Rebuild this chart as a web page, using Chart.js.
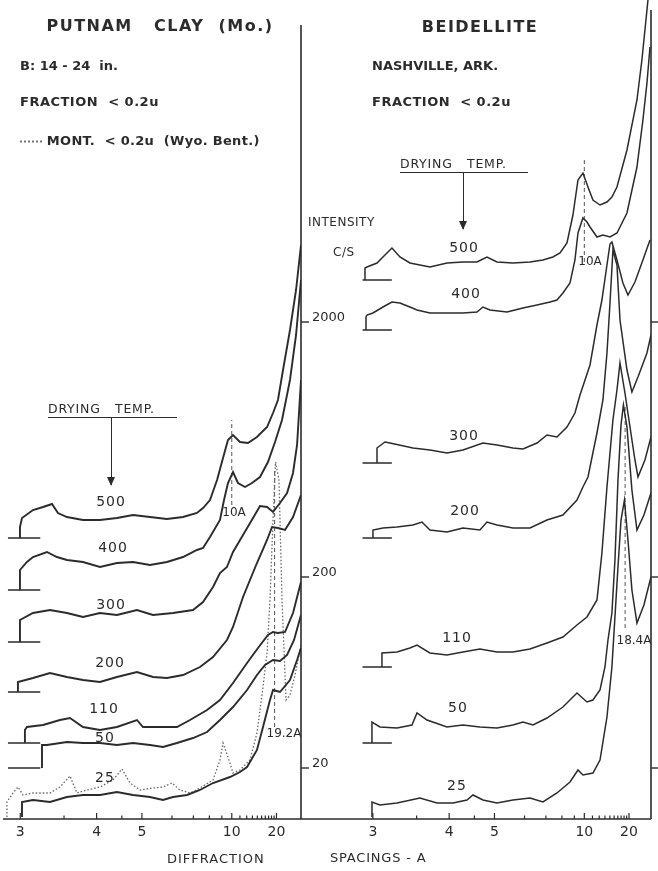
<!DOCTYPE html>
<html>
<head>
<meta charset="utf-8">
<title>Putnam clay / Beidellite - drying temperature</title>
<script src="https://cdn.jsdelivr.net/npm/chart.js@4.4.0/dist/chart.umd.min.js"></script>
<style>
  html, body { margin: 0; padding: 0; background: #fff; }
  #page { position: relative; width: 658px; height: 871px; overflow: hidden; font-family: 'DejaVu Sans', sans-serif; color: #2b2b2b; }
  canvas { position: absolute; top: 0; }
  .t { position: absolute; white-space: nowrap; line-height: 1; transform: translate(0, -50%); }
  .c { transform: translate(-50%, -50%); }
  .b { font-weight: bold; }
  .n { font-size: 14px; letter-spacing: 1px; }
  .ul { position: absolute; height: 0; border-top: 1.5px solid #2b2b2b; }
  .arrow { position: absolute; width: 0; border-left: 1.5px solid #2b2b2b; }
  .arrow::after { content: ''; position: absolute; left: -5.5px; bottom: -1px; border-left: 4.5px solid transparent; border-right: 4.5px solid transparent; border-top: 9px solid #2b2b2b; }
  .dots { display: inline-block; width: 22px; border-top: 2px dotted #777; vertical-align: middle; }
</style>
</head>
<body>
<div id="page">
  <canvas id="putnamChart" width="360" height="871" style="left:0"></canvas>
  <canvas id="beidelliteChart" width="353" height="871" style="left:305px"></canvas>

  <!-- headers -->
  <div class="t c b" style="left:160px;top:26px;font-size:16px;letter-spacing:1.5px">PUTNAM&nbsp;&nbsp; CLAY&nbsp;&nbsp;(Mo.)</div>
  <div class="t b" style="left:20px;top:65px;font-size:13px">B:&nbsp;14 - 24&nbsp; in.</div>
  <div class="t b" style="left:20px;top:101px;font-size:13px;letter-spacing:.5px">FRACTION&nbsp; &lt; 0.2u</div>
  <div class="t b" style="left:20px;top:140px;font-size:13px;letter-spacing:.3px"><span class="dots"></span> MONT.&nbsp; &lt; 0.2u&nbsp; (Wyo. Bent.)</div>

  <div class="t c b" style="left:480px;top:27px;font-size:16px;letter-spacing:1.5px">BEIDELLITE</div>
  <div class="t b" style="left:372px;top:65px;font-size:13px">NASHVILLE, ARK.</div>
  <div class="t b" style="left:372px;top:101px;font-size:13px;letter-spacing:.5px">FRACTION&nbsp; &lt; 0.2u</div>

  <!-- drying temp arrows -->
  <div class="t" style="left:400px;top:164px;font-size:12.5px;letter-spacing:.8px">DRYING&nbsp;&nbsp; TEMP.</div>
  <div class="ul" style="left:400px;top:172px;width:128px"></div>
  <div class="arrow" style="left:463px;top:172px;height:57px"></div>

  <div class="t" style="left:48px;top:409px;font-size:12.5px;letter-spacing:.8px">DRYING&nbsp;&nbsp; TEMP.</div>
  <div class="ul" style="left:48px;top:417px;width:129px"></div>
  <div class="arrow" style="left:111px;top:417px;height:68px"></div>

  <!-- intensity axis title -->
  <div class="t" style="left:308px;top:222px;font-size:12px;letter-spacing:.5px">INTENSITY</div>
  <div class="t" style="left:333px;top:252px;font-size:12px;letter-spacing:.5px">C/S</div>

  <!-- trace labels, Putnam -->
  <div class="t c n" style="left:111px;top:501px">500</div>
  <div class="t c n" style="left:113px;top:547px">400</div>
  <div class="t c n" style="left:111px;top:604px">300</div>
  <div class="t c n" style="left:110px;top:662px">200</div>
  <div class="t c n" style="left:104px;top:708px">110</div>
  <div class="t c n" style="left:105px;top:737px">50</div>
  <div class="t c n" style="left:105px;top:777px">25</div>
  <div class="t c" style="left:234px;top:512px;font-size:12px">10A</div>
  <div class="t c" style="left:284px;top:733px;font-size:12px">19.2A</div>

  <!-- trace labels, Beidellite -->
  <div class="t c n" style="left:464px;top:247px">500</div>
  <div class="t c n" style="left:466px;top:293px">400</div>
  <div class="t c n" style="left:464px;top:435px">300</div>
  <div class="t c n" style="left:465px;top:510px">200</div>
  <div class="t c n" style="left:457px;top:637px">110</div>
  <div class="t c n" style="left:458px;top:707px">50</div>
  <div class="t c n" style="left:457px;top:785px">25</div>
  <div class="t c" style="left:590px;top:261px;font-size:12px">10A</div>
  <div class="t c" style="left:634px;top:640px;font-size:12px">18.4A</div>

  <!-- x axis title -->
  <div class="t" style="left:167px;top:858px;font-size:13px;letter-spacing:1px">DIFFRACTION</div>
  <div class="t" style="left:330px;top:857px;font-size:13px;letter-spacing:.8px">SPACINGS - A</div>
</div>

<script>
// x is 2-theta (deg, Cu K-alpha), y is pen height on the chart (cm from the base line)
const LAMBDA = 1.5418;
const twoTheta = d => 2 * Math.asin(LAMBDA / (2 * d)) * 180 / Math.PI;

const spacingLabels = [3, 4, 5, 10, 20];
const spacingMinor = [3.5, 4.5, 6, 7, 8, 9, 11, 12, 13, 14, 15, 16, 17, 18, 19];
const intensityLabels = ['2000', '200', '20'];
const intensityLevels = [49.7, 24.2, 5.1];

const dryingTemps = [500, 400, 300, 200, 110, 50, 25];

// ---- Putnam clay (Mo.), B 14-24 in., < 0.2u
const putnam500 = [[29.81,29.2],[29.61,30.1],[28.52,30.9],[27.53,31.2],[26.64,31.5],[26.05,30.6],[25.16,30.2],[23.57,29.9],[21.89,29.9],[20.21,30.1],[18.62,30.4],[16.94,30.2],[15.26,30.0],[13.67,30.2],[12.29,30.6],[11.69,31.1],[11.0,31.9],[10.30,33.9],[9.71,36.1],[9.22,37.9],[8.72,38.4],[8.03,37.7],[7.24,37.6],[6.35,38.2],[5.35,39.2],[4.76,40.6],[4.27,41.9],[3.77,44.9],[3.08,48.9],[2.48,52.9],[1.99,57.4]];
const putnam400 = [[29.81,24.9],[29.12,25.7],[28.52,26.2],[27.14,26.7],[26.15,26.2],[25.16,25.9],[23.57,25.7],[21.89,25.2],[20.21,25.6],[18.62,25.7],[16.94,25.4],[15.26,25.7],[13.67,26.2],[12.29,26.9],[11.69,27.1],[11.0,28.2],[10.01,29.9],[9.61,31.9],[9.22,33.6],[8.72,34.7],[8.23,33.6],[7.53,33.2],[6.84,33.6],[6.05,34.2],[5.26,35.7],[4.56,37.7],[3.87,39.9],[3.08,43.9],[2.48,48.4],[1.99,53.9]];
const putnam300 = [[29.81,19.9],[28.52,20.6],[26.84,20.9],[25.16,20.6],[23.57,20.2],[21.89,20.6],[20.21,20.4],[18.23,20.9],[16.64,20.4],[14.66,20.6],[12.68,20.9],[11.69,21.7],[10.70,23.2],[10.01,24.6],[9.32,25.2],[8.72,26.7],[7.73,28.4],[6.74,30.1],[6.05,31.3],[5.35,31.2],[4.76,30.7],[4.07,31.6],[3.37,32.6],[2.78,34.6],[2.38,37.4],[1.99,43.9]];
const putnam200 = [[30.01,13.7],[28.52,14.1],[26.84,14.6],[25.16,14.2],[23.57,13.9],[21.89,13.7],[20.21,14.2],[18.23,14.7],[16.64,14.2],[15.26,14.1],[13.67,14.4],[11.99,15.2],[10.70,16.2],[9.32,17.9],[8.72,19.2],[7.73,22.2],[6.35,25.6],[5.35,27.9],[4.86,29.2],[4.27,29.1],[3.57,28.9],[2.78,30.2],[1.99,32.4]];
const putnam110 = [[29.32,8.9],[29.12,9.2],[27.53,9.4],[25.85,9.9],[24.86,10.1],[23.57,9.2],[21.89,8.9],[20.21,9.2],[18.23,9.9],[17.63,9.2],[15.95,9.2],[14.27,9.2],[12.98,9.9],[11.29,10.9],[10.01,11.9],[8.72,13.6],[7.33,15.6],[6.25,17.1],[5.26,18.4],[4.76,18.7],[4.27,18.6],[3.57,18.7],[2.78,20.6],[1.99,23.7]];
const putnam50 = [[27.63,7.4],[27.14,7.4],[25.16,7.7],[23.57,7.6],[21.89,7.6],[20.21,7.4],[18.62,7.6],[16.94,7.4],[15.65,7.2],[14.27,7.6],[12.68,8.1],[11.29,8.7],[10.01,9.9],[8.72,11.2],[7.33,12.9],[6.35,14.4],[5.55,15.4],[4.76,15.9],[4.07,15.8],[3.37,16.4],[2.68,17.9],[1.99,20.4]];
const putnam25 = [[29.61,1.7],[28.52,1.9],[26.84,1.7],[25.16,2.2],[23.57,2.4],[21.89,2.4],[20.21,2.7],[18.62,2.4],[16.94,2.2],[15.65,1.9],[14.66,2.2],[13.27,2.4],[11.99,2.9],[10.70,3.6],[9.02,4.2],[8.03,4.7],[7.33,5.2],[6.35,6.9],[5.75,9.2],[5.06,11.9],[4.76,12.9],[4.07,12.7],[3.08,13.9],[2.38,15.9],[1.99,17.1]];
const putnamBaselines = [28.1, 22.9, 17.7, 12.7, 7.6, 5.1, 0.2];

// montmorillonite < 0.2u (Wyoming bentonite), dotted
const wyoBent = [[31.10,0.2],[31.10,1.7],[30.50,2.6],[30.01,3.2],[29.51,2.4],[28.52,2.6],[26.84,2.6],[25.85,3.2],[24.86,4.3],[24.17,2.6],[23.18,2.9],[21.89,3.2],[20.60,3.9],[19.71,5.0],[18.92,3.6],[17.93,2.9],[16.64,3.1],[15.65,3.2],[14.76,3.6],[13.97,2.9],[12.98,2.6],[11.99,3.1],[10.70,3.9],[10.01,5.9],[9.71,7.6],[9.02,5.6],[8.72,4.6],[8.03,4.9],[7.04,5.9],[6.35,8.6],[5.75,13.2],[5.35,16.6],[5.06,21.9],[4.76,29.9],[4.51,35.7],[4.17,33.9],[3.87,21.9],[3.47,11.9],[3.08,12.4],[2.58,14.4],[1.99,17.4]];

// ---- Beidellite, Nashville Ark., < 0.2u
const beid500 = [[30.56,55.1],[30.36,55.2],[29.37,55.6],[28.78,56.2],[27.89,57.1],[27.10,56.2],[26.11,55.6],[25.12,55.4],[24.13,55.2],[22.44,55.6],[20.86,55.7],[19.47,55.7],[18.48,56.2],[17.49,55.7],[15.91,55.6],[14.22,55.7],[12.94,55.9],[11.95,56.2],[11.25,56.6],[10.56,57.6],[9.97,60.4],[9.47,63.9],[8.98,64.6],[8.48,63.2],[7.99,61.9],[7.29,61.4],[6.60,61.7],[6.11,62.2],[5.61,63.2],[4.62,66.9],[3.63,71.9],[3.14,75.9],[2.64,80.9],[2.34,83.9]];
const beid400 = [[30.46,50.2],[30.36,50.4],[29.77,50.6],[28.78,51.2],[27.89,51.7],[27.10,51.6],[26.11,51.2],[25.41,50.9],[24.13,50.6],[22.44,50.6],[20.86,50.6],[19.47,50.7],[18.88,51.2],[18.19,50.9],[16.50,50.7],[14.92,51.1],[13.53,51.4],[12.24,51.7],[11.55,51.9],[10.96,52.6],[10.26,53.6],[9.77,55.9],[9.47,58.6],[8.98,60.1],[8.58,59.7],[8.28,59.2],[7.59,58.2],[7.00,58.4],[6.30,58.2],[5.61,58.6],[4.62,60.6],[3.63,65.2],[3.04,69.9],[2.64,73.6],[2.34,77.2]];
const beid300 = [[29.37,37.1],[28.58,37.7],[28.09,37.6],[25.81,37.1],[24.13,36.9],[22.44,36.6],[20.86,36.9],[18.88,37.6],[17.49,37.4],[15.91,37.1],[14.92,37.0],[13.53,37.6],[12.54,38.4],[11.55,38.2],[10.56,39.2],[9.77,40.6],[9.27,42.4],[8.28,45.4],[7.59,49.4],[7.10,51.9],[6.60,55.4],[6.30,57.5],[6.11,57.7],[5.61,55.9],[5.02,53.6],[4.52,52.4],[3.83,53.7],[3.04,55.9],[2.34,57.9]];
const beid200 = [[29.77,28.9],[28.78,29.1],[27.39,29.2],[25.81,29.4],[24.92,29.7],[24.13,28.9],[22.44,28.7],[20.86,29.1],[19.18,28.9],[18.48,29.7],[17.49,29.4],[15.91,29.1],[14.22,29.1],[12.54,29.9],[10.96,30.4],[9.57,31.9],[8.98,33.2],[8.48,34.2],[7.59,38.6],[7.00,41.9],[6.60,46.6],[6.30,51.6],[6.01,56.9],[5.61,55.4],[5.31,49.9],[4.62,44.9],[4.13,42.7],[3.53,44.2],[2.64,46.6],[2.24,48.4]];
const beid110 = [[28.88,16.6],[27.39,16.7],[26.11,17.1],[25.41,17.4],[24.13,16.6],[22.44,16.4],[20.86,16.7],[19.18,17.0],[17.49,16.7],[15.91,16.7],[14.22,17.0],[12.54,17.6],[10.96,18.2],[9.57,19.4],[8.58,20.2],[7.59,21.9],[7.10,26.6],[6.60,33.2],[6.01,39.9],[5.61,42.9],[5.31,45.6],[4.82,42.6],[4.32,39.2],[3.83,35.9],[3.53,34.2],[2.84,35.9],[2.24,38.2]];
const beid50 = [[29.87,9.7],[29.08,9.2],[27.39,9.1],[25.91,9.4],[25.41,10.6],[24.42,9.9],[22.44,9.2],[20.86,9.4],[19.18,9.2],[17.49,9.1],[15.91,9.4],[14.92,9.7],[13.93,9.4],[12.54,10.1],[10.96,11.2],[9.57,12.6],[8.58,11.7],[7.99,11.9],[7.29,12.9],[6.80,15.2],[6.50,17.9],[6.11,20.6],[5.81,25.9],[5.51,33.9],[5.21,39.4],[4.97,41.4],[4.62,39.2],[4.13,32.9],[3.63,28.9],[2.94,30.4],[2.24,32.6]];
const beid25 = [[29.87,1.7],[29.08,1.4],[27.39,1.6],[25.12,2.1],[23.43,1.6],[21.85,1.6],[20.46,1.9],[19.87,2.4],[18.88,1.9],[17.49,1.6],[15.91,1.9],[14.22,2.1],[12.94,1.7],[11.55,2.6],[10.26,3.7],[9.47,4.9],[8.98,4.4],[7.99,4.6],[7.29,5.9],[6.60,10.2],[6.11,15.2],[5.81,20.2],[5.51,25.2],[5.21,29.9],[4.87,31.9],[4.52,27.9],[4.13,22.9],[3.63,19.6],[2.94,21.4],[2.24,24.2]];
const beidBaselines = [53.9, 48.9, 35.6, 28.1, 15.2, 7.6, 0.2];

// peak marks: [d-spacing, from, to]
const putnamPeaks = [[10, 31.4, 39.9], [19.2, 9.2, 34.9]];
const beidPeaks = [[10, 55.7, 66.2], [18.4, 19.1, 41.4]];

const INK = '#2b2b2b';

function traceSet(points, base, width) {
    const data = points.map(p => ({ x: p[0], y: p[1] }));
    data.unshift({ x: points[0][0], y: base }); // rise from the zero mark
    return { data, borderColor: INK, borderWidth: width, pointRadius: 0, tension: 0, fill: false };
}

function baseMarks(levels, from, to) {
    const data = [];
    levels.forEach(b => {
        if (b < 1) return; // 25 C trace sits on the axis
        data.push({ x: from, y: b }, { x: to, y: b }, { x: to, y: null });
    });
    return { data, borderColor: INK, borderWidth: 1.4, pointRadius: 0, spanGaps: false };
}

function peakMarks(peaks) {
    const data = [];
    peaks.forEach(p => {
        const x = twoTheta(p[0]);
        data.push({ x, y: p[1] }, { x, y: p[2] }, { x, y: null });
    });
    return { data, borderColor: '#555', borderWidth: 1, borderDash: [4, 3], pointRadius: 0, spanGaps: false };
}

// axis line, d-spacing ticks, right border and intensity ticks
const frame = {
    id: 'frame',
    afterDatasetsDraw(chart, args, o) {
        const { ctx, chartArea: a, scales: { x, y } } = chart;
        const line = (x1, y1, x2, y2) => { ctx.beginPath(); ctx.moveTo(x1, y1); ctx.lineTo(x2, y2); ctx.stroke(); };
        ctx.save();
        ctx.strokeStyle = INK;
        ctx.lineWidth = 1.6;
        line(a.left, a.bottom, o.axisEnd, a.bottom);
        line(a.right, y.getPixelForValue(o.borderTop), a.right, a.bottom);
        ctx.lineWidth = 1.2;
        spacingLabels.forEach(d => {
            const px = x.getPixelForValue(twoTheta(d));
            line(px, a.bottom, px, a.bottom - 6);
        });
        spacingMinor.forEach(d => {
            const px = x.getPixelForValue(twoTheta(d));
            line(px, a.bottom, px, a.bottom - 3.5);
        });
        ctx.lineWidth = 1.4;
        ctx.fillStyle = INK;
        ctx.font = '13px "DejaVu Sans"';
        ctx.textBaseline = 'middle';
        intensityLevels.forEach((v, i) => {
            const py = y.getPixelForValue(v);
            line(a.right, py, a.right + 8, py);
            if (o.showLabels) ctx.fillText(intensityLabels[i], a.right + 11, py - 4);
        });
        ctx.restore();
    }
};

function makeChart(id, sets, xMin, xMax, padding, frameOpts) {
    return new Chart(document.getElementById(id), {
        type: 'line',
        data: { datasets: sets },
        options: {
            responsive: false,
            animation: false,
            devicePixelRatio: 1,
            layout: { padding: padding },
            plugins: { legend: { display: false }, tooltip: { enabled: false }, frame: frameOpts },
            scales: {
                x: {
                    type: 'linear',
                    reverse: true,
                    min: xMin,
                    max: xMax,
                    grid: { display: false, drawTicks: false },
                    border: { display: false },
                    afterBuildTicks: s => { s.ticks = spacingLabels.map(d => ({ value: twoTheta(d) })); },
                    afterFit: s => { s.height = 52; },
                    ticks: {
                        autoSkip: false,
                        maxRotation: 0,
                        padding: 5,
                        color: INK,
                        font: { family: 'DejaVu Sans', size: 14 },
                        callback: (v, i) => String(spacingLabels[i])
                    }
                },
                y: { display: false, min: 0, max: 81.9 }
            }
        },
        plugins: [frame]
    });
}

const putnamTraces = [putnam500, putnam400, putnam300, putnam200, putnam110, putnam50, putnam25];
const beidTraces = [beid500, beid400, beid300, beid200, beid110, beid50, beid25];

const putnamSets = putnamTraces.map((t, i) => traceSet(t, putnamBaselines[i], 1.9));
putnamSets.push({
    data: wyoBent.map(p => ({ x: p[0], y: p[1] })),
    borderColor: '#666', borderWidth: 1.3, borderDash: [1.5, 2], pointRadius: 0, tension: 0
});
putnamSets.push(baseMarks(putnamBaselines, 31.0, 27.8));
putnamSets.push(peakMarks(putnamPeaks));

const beidSets = beidTraces.map((t, i) => traceSet(t, beidBaselines[i], 1.5));
beidSets.push(baseMarks(beidBaselines, 30.8, 27.9));
beidSets.push(peakMarks(beidPeaks));

makeChart('putnamChart', putnamSets, 1.99, 31.49, { left: 3, right: 59, top: 0, bottom: 0 },
    { axisEnd: 305, borderTop: 79.4, showLabels: true });
makeChart('beidelliteChart', beidSets, 2.24, 36.5, { left: 0, right: 7, top: 0, bottom: 0 },
    { axisEnd: 346, borderTop: 80.9, showLabels: false });
</script>
</body>
</html>
